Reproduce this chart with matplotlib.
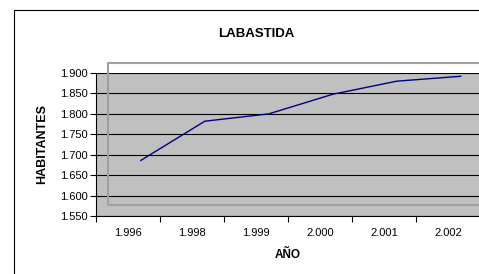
import numpy as np
import matplotlib
matplotlib.use("Agg")
import matplotlib.pyplot as plt
from matplotlib.patches import Rectangle

#Data:-------------------------------------------------------------------------

years = ["1.996", "1.998", "1.999", "2.000", "2.001", "2.002"]
habitantes = [1686, 1782, 1800, 1848, 1880, 1892]
y_ticks = [1550, 1600, 1650, 1700, 1750, 1800, 1850, 1900]
y_labels = ["1.550", "1.600", "1.650", "1.700", "1.750", "1.800", "1.850", "1.900"]

#Figure:-----------------------------------------------------------------------

plt.rcParams['font.family'] = ['Liberation Sans', 'DejaVu Sans']

W, H = 479, 274
fig = plt.figure(figsize=(W/100, H/100), dpi=100)

# outer chart border (cut off at right and bottom)
fig.patches.append(Rectangle((14/W, -0.1), 1.2, 1 - 10/H + 0.1, transform=fig.transFigure,
                             fill=False, edgecolor="black", linewidth=0.8))

ax = fig.add_axes([96/W, 1 - 216/H, 384/W, 143/H])
ax.set_facecolor("#c0c0c0")

x = np.arange(len(years))
ax.plot(x + 0.7, habitantes, color="#000080", linewidth=1.0, zorder=4)

ax.set_xlim(0, len(years))
ax.set_ylim(1550, 1900)
ax.set_yticks(y_ticks)
ax.set_yticklabels(y_labels, fontsize=8)
ax.set_xticks(np.arange(len(years) + 1))
ax.set_xticklabels([])
ax.set_xticks(x + 0.5, minor=True)
ax.set_xticklabels(years, minor=True, fontsize=8)
ax.tick_params(axis="x", which="minor", length=0, pad=9)
ax.tick_params(axis="x", which="major", length=4, direction="out", width=0.8)
ax.tick_params(axis="y", length=4, direction="out", width=0.8, pad=2)

ax.yaxis.grid(True, color="black", linewidth=0.8)
ax.set_axisbelow(True)
for side in ["top", "right"]:
    ax.spines[side].set_visible(False)
ax.spines["left"].set_linewidth(0.8)
ax.spines["bottom"].set_linewidth(0.8)

# inner light frame
fig.patches.append(Rectangle((108/W, 1 - 205/H), 1.0, 142/H, transform=fig.transFigure,
                             fill=False, edgecolor="#a0a0a0", linewidth=1.5, zorder=5))

fig.text(256/W, 1 - 34/H, "LABASTIDA", ha="center", va="center", fontsize=9.5, fontweight="bold")
fig.text(288/W, 1 - 255/H, "AÑO", ha="center", va="center", fontsize=8.5, fontweight="bold")
fig.text(42/W, 1 - 144/H, "HABITANTES", ha="center", va="center", rotation=90,
         fontsize=9, fontweight="bold")

fig.savefig("out.png", dpi=100)
